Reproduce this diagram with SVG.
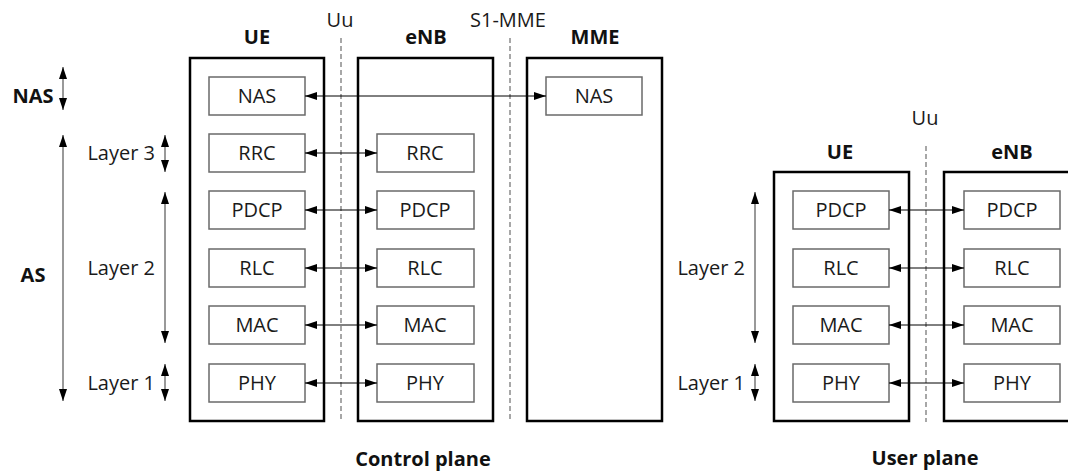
<svg xmlns="http://www.w3.org/2000/svg" width="1068" height="474" viewBox="0 0 1068 474">
<defs>
<marker id="ah" viewBox="0 0 12 8" refX="12" refY="4" markerWidth="12" markerHeight="8" markerUnits="userSpaceOnUse" orient="auto-start-reverse">
<path d="M0,0 L12,4 L0,8 z" fill="#000"/>
</marker>
<style>
.outer{fill:#fff;stroke:#000;stroke-width:2.5}
.inner{fill:#fff;stroke:#6a6a6a;stroke-width:1.5}
.t{font-family:"Open Sans","Noto Sans",sans-serif;font-size:20px;fill:#1a1a1a;text-anchor:middle}
.b{font-family:"Open Sans","Noto Sans",sans-serif;font-size:20px;font-weight:bold;fill:#111;text-anchor:middle}
.lab{font-family:"Open Sans","Noto Sans",sans-serif;font-size:20px;fill:#1a1a1a;text-anchor:end}
.dash{stroke:#8a8a8a;stroke-width:1.5;stroke-dasharray:5 3;fill:none}
.con{stroke:#000;stroke-width:1;fill:none;marker-start:url(#ah);marker-end:url(#ah)}
.dim{stroke:#777;stroke-width:1.5;fill:none;marker-start:url(#ah);marker-end:url(#ah)}
</style>
</defs>
<rect width="1068" height="474" fill="#fff"/>

<g id="interfaces">
<line class="dash" x1="341" y1="38" x2="341" y2="422"/>
<text class="t" x="340" y="27">Uu</text>
<line class="dash" x1="510" y1="38" x2="510" y2="422"/>
<text class="t" x="508" y="27">S1-MME</text>
<line class="dash" x1="926" y1="146" x2="926" y2="422"/>
<text class="t" x="925" y="125">Uu</text>
</g>

<g id="cp-ue">
<text class="b" x="257" y="44">UE</text>
<rect class="outer" x="190" y="58" width="134" height="363"/>
<g id="cp-ue-nas"><rect class="inner" x="209" y="77" width="96" height="38"/><text class="t" x="257" y="103">NAS</text></g>
<g id="cp-ue-rrc"><rect class="inner" x="209" y="134" width="96" height="38"/><text class="t" x="257" y="160">RRC</text></g>
<g id="cp-ue-pdcp"><rect class="inner" x="209" y="191" width="96" height="38"/><text class="t" x="257" y="217">PDCP</text></g>
<g id="cp-ue-rlc"><rect class="inner" x="209" y="249" width="96" height="38"/><text class="t" x="257" y="275">RLC</text></g>
<g id="cp-ue-mac"><rect class="inner" x="209" y="306" width="96" height="38"/><text class="t" x="257" y="332">MAC</text></g>
<g id="cp-ue-phy"><rect class="inner" x="209" y="364" width="96" height="38"/><text class="t" x="257" y="390">PHY</text></g>
</g>

<g id="cp-enb">
<text class="b" x="426" y="44">eNB</text>
<rect class="outer" x="358" y="58" width="135" height="363"/>
<g id="cp-enb-rrc"><rect class="inner" x="377" y="134" width="97" height="38"/><text class="t" x="425" y="160">RRC</text></g>
<g id="cp-enb-pdcp"><rect class="inner" x="377" y="191" width="97" height="38"/><text class="t" x="425" y="217">PDCP</text></g>
<g id="cp-enb-rlc"><rect class="inner" x="377" y="249" width="97" height="38"/><text class="t" x="425" y="275">RLC</text></g>
<g id="cp-enb-mac"><rect class="inner" x="377" y="306" width="97" height="38"/><text class="t" x="425" y="332">MAC</text></g>
<g id="cp-enb-phy"><rect class="inner" x="377" y="364" width="97" height="38"/><text class="t" x="425" y="390">PHY</text></g>
</g>

<g id="cp-mme">
<text class="b" x="595" y="44">MME</text>
<rect class="outer" x="527" y="58" width="135" height="363"/>
<g id="cp-mme-nas"><rect class="inner" x="546" y="77" width="96" height="38"/><text class="t" x="594" y="103">NAS</text></g>
</g>

<g id="up-ue">
<text class="b" x="840" y="159">UE</text>
<rect class="outer" x="774" y="172" width="135" height="249"/>
<g id="up-ue-pdcp"><rect class="inner" x="793" y="191" width="96" height="38"/><text class="t" x="841" y="217">PDCP</text></g>
<g id="up-ue-rlc"><rect class="inner" x="793" y="249" width="96" height="38"/><text class="t" x="841" y="275">RLC</text></g>
<g id="up-ue-mac"><rect class="inner" x="793" y="306" width="96" height="38"/><text class="t" x="841" y="332">MAC</text></g>
<g id="up-ue-phy"><rect class="inner" x="793" y="364" width="96" height="38"/><text class="t" x="841" y="390">PHY</text></g>
</g>

<g id="up-enb">
<text class="b" x="1012" y="159">eNB</text>
<rect class="outer" x="944" y="172" width="140" height="249"/>
<g id="up-enb-pdcp"><rect class="inner" x="964" y="191" width="96" height="38"/><text class="t" x="1012" y="217">PDCP</text></g>
<g id="up-enb-rlc"><rect class="inner" x="964" y="249" width="96" height="38"/><text class="t" x="1012" y="275">RLC</text></g>
<g id="up-enb-mac"><rect class="inner" x="964" y="306" width="96" height="38"/><text class="t" x="1012" y="332">MAC</text></g>
<g id="up-enb-phy"><rect class="inner" x="964" y="364" width="96" height="38"/><text class="t" x="1012" y="390">PHY</text></g>
</g>

<g id="connectors">
<line class="con" x1="305" y1="96" x2="546" y2="96"/>
<line class="con" x1="305" y1="153" x2="377" y2="153"/>
<line class="con" x1="305" y1="210" x2="377" y2="210"/>
<line class="con" x1="305" y1="268" x2="377" y2="268"/>
<line class="con" x1="305" y1="325" x2="377" y2="325"/>
<line class="con" x1="305" y1="383" x2="377" y2="383"/>
<line class="con" x1="889" y1="210" x2="964" y2="210"/>
<line class="con" x1="889" y1="268" x2="964" y2="268"/>
<line class="con" x1="889" y1="325" x2="964" y2="325"/>
<line class="con" x1="889" y1="383" x2="964" y2="383"/>
</g>

<g id="cp-layers">
<text class="b" x="33" y="103">NAS</text>
<line class="dim" x1="63" y1="67" x2="63" y2="110"/>
<text class="b" x="33" y="282">AS</text>
<line class="dim" x1="63" y1="135" x2="63" y2="401"/>
<text class="lab" x="155" y="160">Layer 3</text>
<line class="dim" x1="165" y1="135" x2="165" y2="172"/>
<text class="lab" x="155" y="275">Layer 2</text>
<line class="dim" x1="165" y1="192" x2="165" y2="343"/>
<text class="lab" x="155" y="390">Layer 1</text>
<line class="dim" x1="165" y1="364" x2="165" y2="401"/>
</g>

<g id="up-layers">
<text class="lab" x="745" y="275">Layer 2</text>
<line class="dim" x1="755" y1="192" x2="755" y2="343"/>
<text class="lab" x="745" y="390">Layer 1</text>
<line class="dim" x1="755" y1="364" x2="755" y2="401"/>
</g>

<g id="titles">
<text class="b" x="423" y="466">Control plane</text>
<text class="b" x="925" y="465">User plane</text>
</g>
</svg>
